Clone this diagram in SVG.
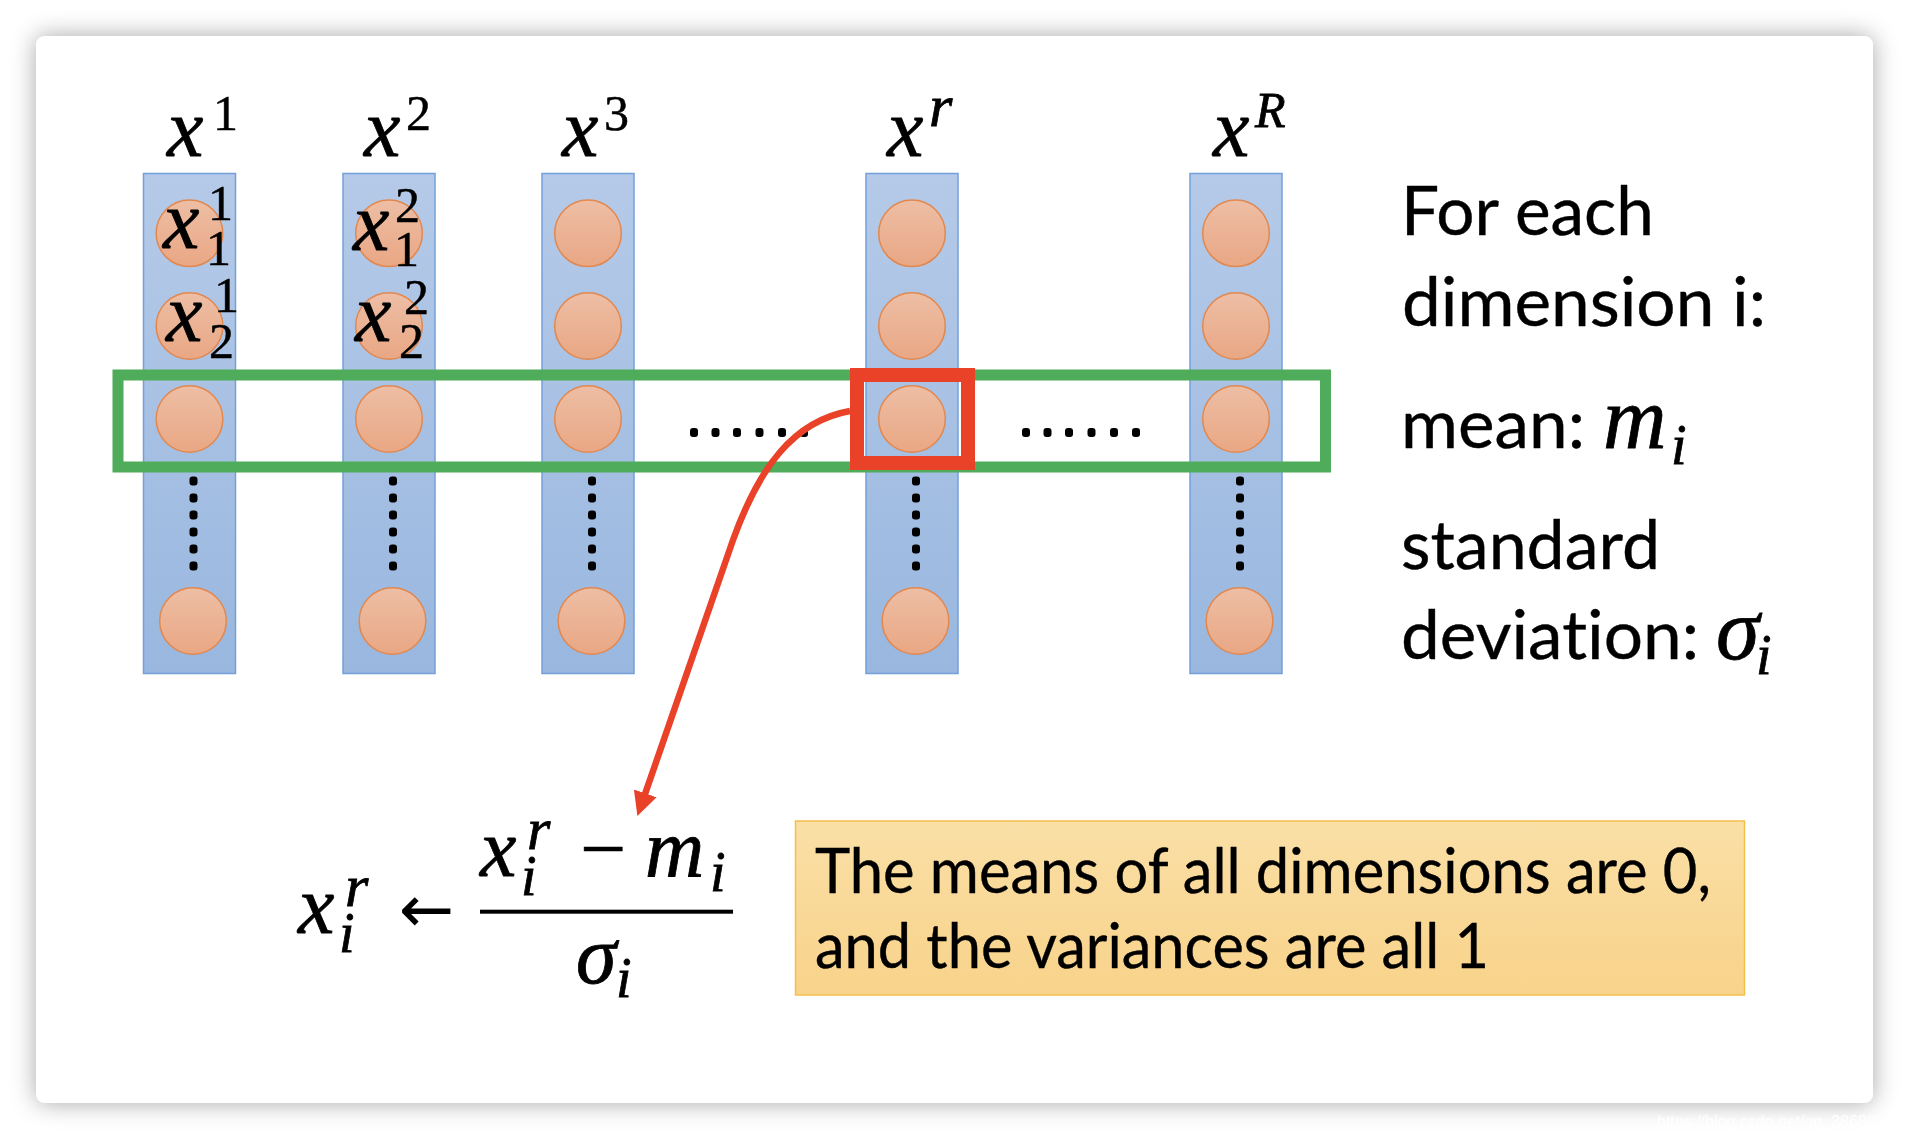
<svg xmlns="http://www.w3.org/2000/svg" width="1910" height="1140" viewBox="0 0 1910 1140">
<defs>
<style>
.m{font-family:"Liberation Serif","Times New Roman",serif;font-style:italic;fill:#000;stroke:#000;stroke-width:0.8}
.mn{font-family:"Liberation Serif","Times New Roman",serif;fill:#000;stroke:#000;stroke-width:0.5}
.big{font-size:82px}
.sc{font-size:50px}
.sr{font-size:60px}
.t{font-family:Lato,"Open Sans","Liberation Sans",sans-serif;fill:#000;font-variant-ligatures:none;stroke:#000;stroke-width:0.4}
.col{fill:url(#colG);stroke:#74A0DA;stroke-width:1.5}
.c{fill:url(#cirG);stroke:#E2884F;stroke-width:1.5}
.dot{fill:#000}
</style>
<linearGradient id="colG" x1="0" y1="0" x2="0" y2="1">
<stop offset="0" stop-color="#B5CAE8"/>
<stop offset="1" stop-color="#99B7DF"/>
</linearGradient>
<linearGradient id="cirG" x1="0" y1="0" x2="0" y2="1">
<stop offset="0" stop-color="#EDBEA5"/>
<stop offset="1" stop-color="#E9A784"/>
</linearGradient>
<linearGradient id="yelG" x1="0" y1="0" x2="0" y2="1">
<stop offset="0" stop-color="#FADFA6"/>
<stop offset="1" stop-color="#F8D38A"/>
</linearGradient>
<filter id="sh" x="-10%" y="-10%" width="120%" height="120%">
<feDropShadow dx="0" dy="0" stdDeviation="12" flood-color="#000" flood-opacity="0.35"/>
</filter>
<marker id="ah" markerUnits="userSpaceOnUse" markerWidth="28" markerHeight="28" refX="17" refY="12" orient="auto">
<path d="M0,0 L24,12 L0,24 z" fill="#EA4129"/>
</marker>
<g id="dotcol">
<rect x="-4" y="-4.5" width="8" height="9" rx="3" class="dot"/>
<rect x="-4" y="12.5" width="8" height="9" rx="3" class="dot"/>
<rect x="-4" y="29.5" width="8" height="9" rx="3" class="dot"/>
<rect x="-4" y="46.5" width="8" height="9" rx="3" class="dot"/>
<rect x="-4" y="63.5" width="8" height="9" rx="3" class="dot"/>
<rect x="-4" y="80.5" width="8" height="9" rx="3" class="dot"/>
</g>
<g id="dotrow">
<rect x="-4" y="-4.5" width="8" height="9" rx="3" class="dot"/>
<rect x="17.5" y="-4.5" width="8" height="9" rx="3" class="dot"/>
<rect x="39" y="-4.5" width="8" height="9" rx="3" class="dot"/>
<rect x="61.5" y="-4.5" width="8" height="9" rx="3" class="dot"/>
<rect x="84" y="-4.5" width="8" height="9" rx="3" class="dot"/>
<rect x="106" y="-4.5" width="8" height="9" rx="3" class="dot"/>
</g>
</defs>
<rect width="1910" height="1140" fill="#FFFFFF"/>
<rect id="card" x="36" y="36" width="1837" height="1067" rx="9" fill="#FFFFFF" filter="url(#sh)"/>
<text x="1657" y="1127" font-family="Liberation Sans,Arial,sans-serif" font-size="16" fill="#FFFFFF">https://blog.csdn.net/qq_3868935</text>

<g id="col1">
<rect class="col" x="143.5" y="173.5" width="92" height="500"/>
<circle class="c" cx="189.5" cy="233.3" r="33.3"/>
<circle class="c" cx="189.5" cy="326" r="33.3"/>
<circle class="c" cx="189.5" cy="419" r="33.3"/>
<use href="#dotcol" x="193.5" y="481"/>
<circle class="c" cx="193" cy="621" r="33.3"/>
</g>
<g id="col2">
<rect class="col" x="343" y="173.5" width="92" height="500"/>
<circle class="c" cx="389" cy="233.3" r="33.3"/>
<circle class="c" cx="389" cy="326" r="33.3"/>
<circle class="c" cx="389" cy="419" r="33.3"/>
<use href="#dotcol" x="393" y="481"/>
<circle class="c" cx="392.5" cy="621" r="33.3"/>
</g>
<g id="col3">
<rect class="col" x="542" y="173.5" width="92" height="500"/>
<circle class="c" cx="588" cy="233.3" r="33.3"/>
<circle class="c" cx="588" cy="326" r="33.3"/>
<circle class="c" cx="588" cy="419" r="33.3"/>
<use href="#dotcol" x="592" y="481"/>
<circle class="c" cx="591.5" cy="621" r="33.3"/>
</g>
<g id="colr">
<rect class="col" x="866" y="173.5" width="92" height="500"/>
<circle class="c" cx="912" cy="233.3" r="33.3"/>
<circle class="c" cx="912" cy="326" r="33.3"/>
<circle class="c" cx="912" cy="419" r="33.3"/>
<use href="#dotcol" x="916" y="481"/>
<circle class="c" cx="915.5" cy="621" r="33.3"/>
</g>
<g id="colR">
<rect class="col" x="1190" y="173.5" width="92" height="500"/>
<circle class="c" cx="1236" cy="233.3" r="33.3"/>
<circle class="c" cx="1236" cy="326" r="33.3"/>
<circle class="c" cx="1236" cy="419" r="33.3"/>
<use href="#dotcol" x="1240" y="481"/>
<circle class="c" cx="1239.5" cy="621" r="33.3"/>
</g>

<g id="labels">
<text class="m big" x="167" y="156">x</text><text class="mn sc" x="213" y="130">1</text>
<text class="m big" x="364" y="156">x</text><text class="mn sc" x="406" y="130">2</text>
<text class="m big" x="562" y="156">x</text><text class="mn sc" x="604" y="130">3</text>
<text class="m big" x="887" y="156">x</text><text class="m sr" x="929" y="126">r</text>
<text class="m big" x="1213" y="156">x</text><text class="m sc" x="1255" y="127">R</text>
</g>
<g id="cellLabels">
<text class="m big" x="163" y="248">x</text><text class="mn sc" x="208" y="220">1</text><text class="mn sc" x="206" y="265">1</text>
<text class="m big" x="166" y="341">x</text><text class="mn sc" x="214" y="312">1</text><text class="mn sc" x="209" y="358">2</text>
<text class="m big" x="353" y="250">x</text><text class="mn sc" x="395" y="222">2</text><text class="mn sc" x="394" y="266">1</text>
<text class="m big" x="355" y="341">x</text><text class="mn sc" x="404" y="314">2</text><text class="mn sc" x="399" y="358">2</text>
</g>

<g id="row-dots">
<use href="#dotrow" x="694" y="432.5"/>
<use href="#dotrow" x="1026" y="432.5"/>
</g>

<rect id="green-row" x="118" y="375" width="1207.5" height="92" fill="none" stroke="#4EAC5B" stroke-width="11"/>
<rect id="red-cell" x="857" y="375" width="111" height="88" fill="none" stroke="#EA4129" stroke-width="14"/>

<g id="connectors">
<path d="M850,411 C793,421 759,468 733,540 L639.7,809.4" fill="none" stroke="#EA4129" stroke-width="6.5" marker-end="url(#ah)"/>
</g>

<g id="right-text" class="t">
<text x="1401" y="235" font-size="68" textLength="253" lengthAdjust="spacingAndGlyphs">For each</text>
<text x="1402" y="326" font-size="68" textLength="364" lengthAdjust="spacingAndGlyphs">dimension i:</text>
<text x="1401" y="448" font-size="68" textLength="184" lengthAdjust="spacingAndGlyphs">mean:</text>
<text x="1401" y="569" font-size="68" textLength="259" lengthAdjust="spacingAndGlyphs">standard</text>
<text x="1401" y="659" font-size="68" textLength="298" lengthAdjust="spacingAndGlyphs">deviation:</text>
</g>
<g id="right-math">
<text class="m" x="1603" y="448" font-size="88">m</text><text class="m" x="1671" y="464" font-size="56">i</text>
<text class="m" x="1716" y="659" font-size="88">σ</text><text class="m" x="1756" y="674" font-size="56">i</text>
</g>

<g id="formula">
<text class="m big" x="298" y="933">x</text><text class="m sr" x="345" y="906">r</text><text class="m" font-size="56" x="339" y="952">i</text>
<text x="399" y="932" font-family="DejaVu Sans,sans-serif" font-size="66" fill="#000">←</text>
<rect x="480" y="909.7" width="253" height="4" fill="#000"/>
<text class="m big" x="480" y="876">x</text><text class="m sr" x="527" y="849">r</text><text class="m" font-size="56" x="521" y="895">i</text>
<text class="mn big" x="580" y="876">−</text>
<text class="m big" x="645" y="876">m</text><text class="m" font-size="56" x="710" y="891">i</text>
<text class="m big" x="576" y="983">σ</text><text class="m" font-size="56" x="616" y="997">i</text>
</g>

<g id="note">
<rect x="795.5" y="821" width="949" height="174" fill="url(#yelG)" stroke="#F3C04C" stroke-width="1.5"/>
<text class="t" x="815" y="893" font-size="61" textLength="896" lengthAdjust="spacingAndGlyphs">The means of all dimensions are 0,</text>
<text class="t" x="815" y="968" font-size="61" textLength="674" lengthAdjust="spacingAndGlyphs">and the variances are all 1</text>
</g>
</svg>
